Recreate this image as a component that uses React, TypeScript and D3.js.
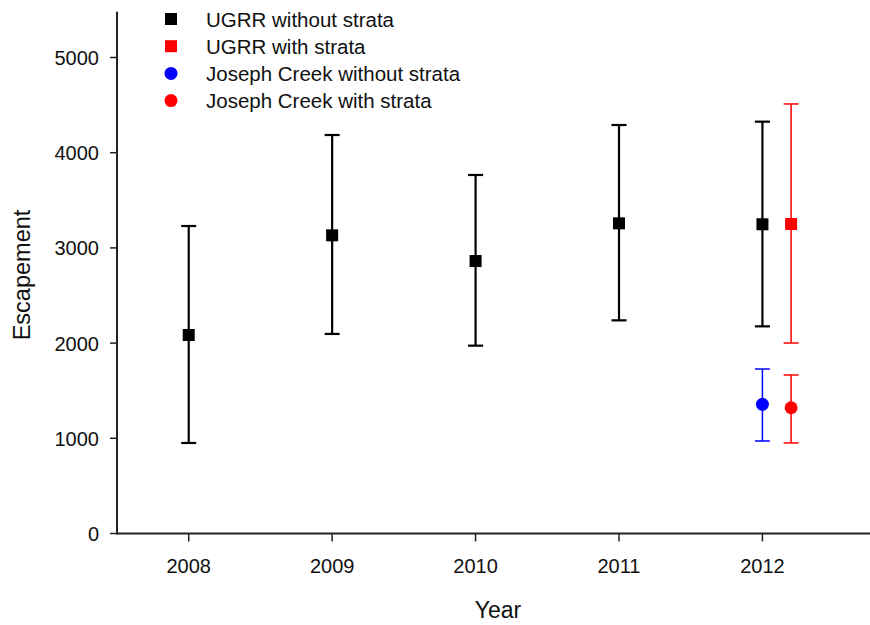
import React from "react";
import * as d3 from "d3";

// Escapement estimates with lower/upper bounds
const years = [2008, 2009, 2010, 2011, 2012];
const ugrrNoStrata = [2085, 3132, 2862, 3258, 3248];
const ugrrNoStrataLow = [951, 2096, 1973, 2239, 2176];
const ugrrNoStrataHigh = [3230, 4186, 3766, 4291, 4326];

const ugrrStrataYear = [2012.2];
const ugrrStrata = [3251];
const ugrrStrataLow = [2001];
const ugrrStrataHigh = [4512];

const josephNoStrataYear = [2012];
const josephNoStrata = [1357];
const josephNoStrataLow = [972];
const josephNoStrataHigh = [1728];

const josephStrataYear = [2012.2];
const josephStrata = [1321];
const josephStrataLow = [951];
const josephStrataHigh = [1665];

const yTicks = [0, 1000, 2000, 3000, 4000, 5000];
const legendLabels = [
  "UGRR without strata",
  "UGRR with strata",
  "Joseph Creek without strata",
  "Joseph Creek with strata",
];

const W = 870;
const H = 625;
const FONT = "Arial, 'Liberation Sans', sans-serif";

type Point = { x: number; y: number; lo: number; hi: number };

function zip(xs: number[], ys: number[], lo: number[], hi: number[]): Point[] {
  return xs.map((x, i) => ({ x, y: ys[i], lo: lo[i], hi: hi[i] }));
}

export default function App() {
  const x = d3.scaleLinear().domain([2007.5, 2012.75]).range([117, 870]);
  const y = d3.scaleLinear().domain([0, 5000]).range([533.5, 57.5]);

  const series = [
    { pts: zip(years, ugrrNoStrata, ugrrNoStrataLow, ugrrNoStrataHigh), color: "#000", shape: "square", lw: 2.2 },
    { pts: zip(ugrrStrataYear, ugrrStrata, ugrrStrataLow, ugrrStrataHigh), color: "#ff0000", shape: "square", lw: 1.5 },
    { pts: zip(josephNoStrataYear, josephNoStrata, josephNoStrataLow, josephNoStrataHigh), color: "#0000ff", shape: "circle", lw: 1.5 },
    { pts: zip(josephStrataYear, josephStrata, josephStrataLow, josephStrataHigh), color: "#ff0000", shape: "circle", lw: 1.5 },
  ];

  const capHalf = 7.5;
  const sq = 12;
  const r = 6.5;

  const marker = (shape: string, cx: number, cy: number, color: string, key?: string | number) =>
    shape === "square" ? (
      <rect key={key} x={cx - sq / 2} y={cy - sq / 2} width={sq} height={sq} fill={color} />
    ) : (
      <circle key={key} cx={cx} cy={cy} r={r} fill={color} />
    );

  return (
    <svg width={W} height={H} style={{ position: "absolute", left: 0, top: 0 }} fontFamily={FONT}>
      <rect width={W} height={H} fill="#fff" />

      {/* axes */}
      <line x1={117} x2={117} y1={y(5480)} y2={y(0) + 1} stroke="#222" strokeWidth={2} />
      <line x1={117} x2={870} y1={y(0)} y2={y(0)} stroke="#222" strokeWidth={2} />

      {yTicks.map((t) => (
        <g key={t}>
          <line x1={110} x2={117} y1={y(t)} y2={y(t)} stroke="#222" strokeWidth={1.5} />
          <text x={99} y={y(t) + 7.5} textAnchor="end" fontSize={20} fill="#111">
            {t}
          </text>
        </g>
      ))}
      {years.map((t) => (
        <g key={t}>
          <line x1={x(t)} x2={x(t)} y1={y(0)} y2={y(0) + 8} stroke="#222" strokeWidth={1.5} />
          <text x={x(t)} y={572.5} textAnchor="middle" fontSize={20} fill="#111">
            {t}
          </text>
        </g>
      ))}

      <text x={498} y={618} textAnchor="middle" fontSize={23} fill="#111">
        Year
      </text>
      <text transform={`translate(30,275) rotate(-90)`} textAnchor="middle" fontSize={23.5} fill="#111">
        Escapement
      </text>

      {/* error bars and markers */}
      {series.map((s, si) => (
        <g key={si}>
          {s.pts.map((p, i) => {
            const cx = x(p.x);
            return (
              <g key={i}>
                <line x1={cx} x2={cx} y1={y(p.lo)} y2={y(p.hi)} stroke={s.color} strokeWidth={s.lw} />
                <line x1={cx - capHalf} x2={cx + capHalf} y1={y(p.lo)} y2={y(p.lo)} stroke={s.color} strokeWidth={s.lw} />
                <line x1={cx - capHalf} x2={cx + capHalf} y1={y(p.hi)} y2={y(p.hi)} stroke={s.color} strokeWidth={s.lw} />
                {marker(s.shape, cx, y(p.y), s.color)}
              </g>
            );
          })}
        </g>
      ))}

      {/* legend */}
      {legendLabels.map((label, i) => {
        const cy = 19 + i * 27.2;
        return (
          <g key={label}>
            {marker(series[i].shape, 171, cy, series[i].color)}
            <text x={206} y={cy + 7.5} fontSize={20.5} fill="#111">
              {label}
            </text>
          </g>
        );
      })}
    </svg>
  );
}
